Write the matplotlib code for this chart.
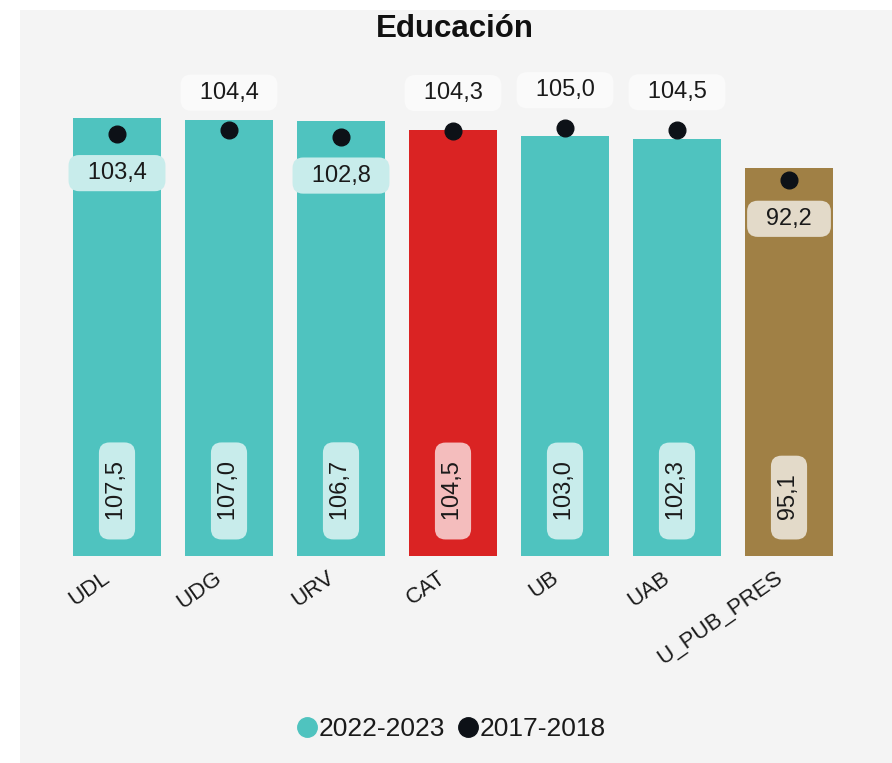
import matplotlib
matplotlib.use("Agg")
import matplotlib.pyplot as plt
import matplotlib.transforms as mtransforms
from matplotlib.patches import Rectangle
from matplotlib.lines import Line2D

plt.rcParams['font.family'] = ['Liberation Sans', 'DejaVu Sans']

# data
universities = ["UDL", "UDG", "URV", "CAT", "UB", "UAB", "U_PUB_PRES"]
value_2022 = [107.5, 107.0, 106.7, 104.5, 103.0, 102.3, 95.1]
value_2017 = [103.4, 104.4, 102.8, 104.3, 105.0, 104.5, 92.2]
label_inside = [True, False, True, False, False, False, True]
bar_colors = ["#4fc3bf", "#4fc3bf", "#4fc3bf", "#da2323", "#4fc3bf", "#4fc3bf", "#a08045"]
light_colors = ["#c8eceb", "#c8eceb", "#c8eceb", "#f4bdbd", "#c8eceb", "#c8eceb", "#e3dac9"]
dot_color = "#0d1117"
bg = "#f4f4f4"


def fmt(v):
    # padded with en spaces so the rounded box is longer than it is tall
    return "\u2002" + f"{v:.1f}".replace(".", ",") + "\u2002"


fig = plt.figure(figsize=(8.92, 7.63), dpi=100)
fig.patch.set_facecolor("white")
fig.patches.append(Rectangle((20 / 892, 0), 1 - 20 / 892, 1 - 10 / 763,
                             transform=fig.transFigure, facecolor=bg,
                             edgecolor="none", zorder=-10))

ax = fig.add_axes([61 / 892, (763 - 556) / 763, 784 / 892, 496 / 763])
ax.set_facecolor("none")

x = range(len(universities))
ax.bar(x, value_2022, width=0.786, color=bar_colors, zorder=2)
ax.plot(x, value_2017, 'o', color=dot_color, markersize=12, zorder=4)

box = "round,pad=0.3,rounding_size=0.45"
for i, (b, d) in enumerate(zip(value_2022, value_2017)):
    # bar value, rotated, near the base
    ax.annotate(fmt(b), (i, 0), xytext=(0, 17), textcoords="offset points",
                rotation=90, ha="center", va="bottom", fontsize=17,
                color="#1a1a1a", zorder=5,
                bbox=dict(boxstyle=box, facecolor=light_colors[i], edgecolor="none"))
    # 2017 value: inside the bar or above it
    if label_inside[i]:
        off, face = -28, light_colors[i]
    else:
        off, face = 27, "#fafafa"
    ax.annotate(fmt(d), (i, d), xytext=(0, off), textcoords="offset points",
                ha="center", va="center", fontsize=17, color="#1a1a1a",
                zorder=5, annotation_clip=False,
                bbox=dict(boxstyle=box, facecolor=face, edgecolor="none"))

ax.set_xlim(-0.5, len(universities) - 0.5)
ax.set_ylim(0, 121.6)
ax.set_xticks(list(x))
ax.set_xticklabels(universities, rotation=35, ha="right",
                   rotation_mode="anchor", fontsize=16, color="#1a1a1a")
ax.tick_params(axis="x", length=0, pad=8)
shift = mtransforms.ScaledTranslation(-15 / 100, 0, fig.dpi_scale_trans)
for lab in ax.get_xticklabels():
    lab.set_transform(lab.get_transform() + shift)
ax.set_yticks([])
for s in ax.spines.values():
    s.set_visible(False)

fig.text(455 / 892, 1 - 29 / 763, "Educación", ha="center", va="center",
         fontsize=22.5, fontweight="bold", color="#111111")

handles = [Line2D([], [], marker="o", linestyle="none", color="#4fc3bf", markersize=14),
           Line2D([], [], marker="o", linestyle="none", color=dot_color, markersize=14)]
fig.legend(handles, ["2022-2023", "2017-2018"], loc="center",
           bbox_to_anchor=(449 / 892, 1 - 729 / 763), ncol=2, frameon=False,
           fontsize=19, handletextpad=-0.1, columnspacing=0.3, handlelength=1.1,
           labelcolor="#1a1a1a")

fig.savefig("out.png", dpi=100)
